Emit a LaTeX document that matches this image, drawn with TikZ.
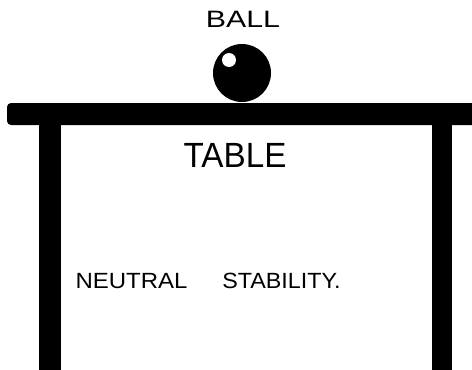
\documentclass[tikz,border=0pt]{standalone}
\usepackage{fontspec}
\setmainfont{Liberation Sans}
\begin{document}
\begin{tikzpicture}[x=1pt,y=-1pt,
  ink/.style={fill=black,draw=none},
  lbl/.style={inner sep=0pt,anchor=base,text=black}]
\useasboundingbox (0,0) rectangle (472,370);
% table top
\fill[black,rounded corners=4pt] (7,103) rectangle (480,125);
% legs
\fill[black] (39,122) rectangle (61,372);
\fill[black] (432,122) rectangle (452,372);
% ball
\node[circle,ink,minimum size=58pt,inner sep=0pt] (ball) at (242,73) {};
\node[circle,fill=white,draw=none,minimum size=14pt,inner sep=0pt] (shine) at (229,60) {};
% labels
\node[lbl,font=\fontsize{23.7}{24}\selectfont,xscale=1.28] (balllbl) at (243,27) {BALL};
\node[lbl,font=\fontsize{35}{36}\selectfont,xscale=0.95] (tablelbl) at (235,167) {TABLE};
\node[lbl,font=\fontsize{22}{24}\selectfont,xscale=1.09] (neutral) at (131.5,288) {NEUTRAL};
\node[lbl,font=\fontsize{22}{24}\selectfont,xscale=1.06] (stability) at (281.5,288) {STABILITY.};
\end{tikzpicture}
\end{document}
